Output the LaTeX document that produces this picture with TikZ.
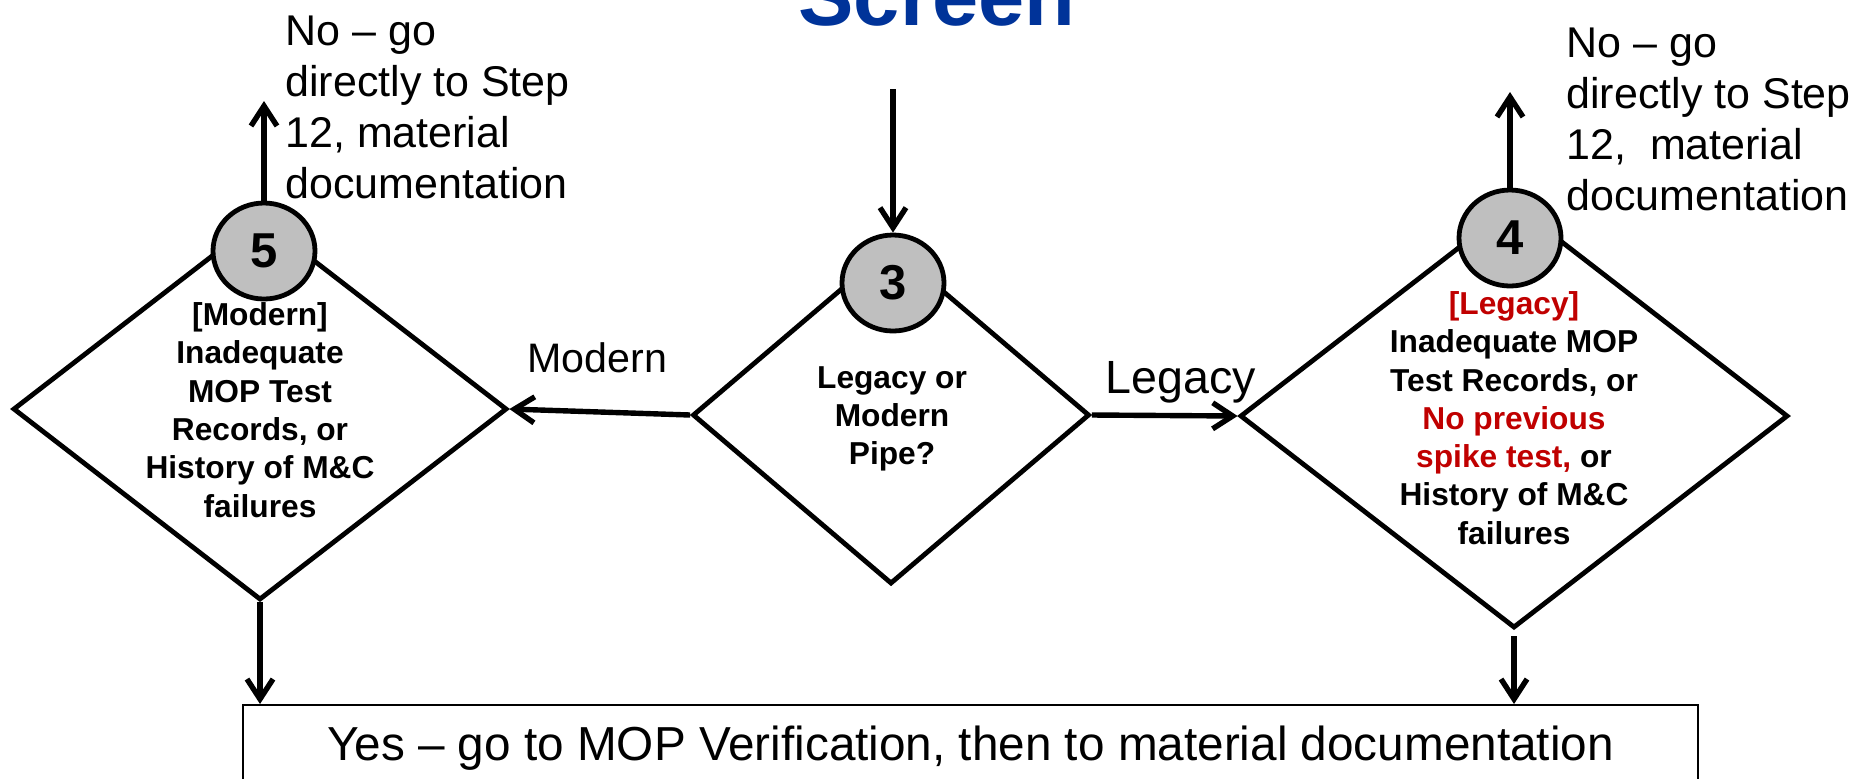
\documentclass[tikz,border=0pt]{standalone}
\usepackage{fontspec}
\setmainfont{Liberation Sans}
\usepackage{tikz}
\usetikzlibrary{arrows.meta,shapes.geometric,positioning,calc}
\usepackage{xcolor}
\newcommand{\pxunit}{0.5pt}
\tikzset{
    diasty/.style={draw,shape=diamond,inner sep=0,line width=2.4pt},
    numsty/.style={draw,ellipse,fill=numgray,line width=2.4pt,inner sep=0,minimum width=51pt,minimum height=48pt,font=\bfseries\fontsize{24.5}{24.5}\selectfont},
    asksty/.style={align=center,inner sep=0,font=\bfseries\fontsize{15.85}{19.15}\selectfont},
    notesty/.style={align=left,inner sep=0,anchor=base west,font=\fontsize{21.5}{25.5}\selectfont},
    lblsty/.style={inner sep=0,anchor=base west},
    boxsty/.style={draw,line width=0.8pt,anchor=north,inner xsep=0,inner ysep=10.5pt,text depth=20pt,font=\fontsize{23.85}{23.85}\selectfont},
    titlesty/.style={inner sep=0,anchor=base,text=titleblue,font=\bfseries\fontsize{41.5}{41.5}\selectfont},
    arrsty/.style={->,line width=2.7pt},
}
\definecolor{titleblue}{RGB}{0,51,153}
\definecolor{alertred}{RGB}{192,0,0}
\definecolor{numgray}{RGB}{191,191,191}
\newcommand{\redtx}[1]{\textcolor{alertred}{#1}}

\begin{document}
\begin{tikzpicture}[>={Straight Barb[length=10pt,width=13pt,line width=2.7pt]},x=\pxunit,y=-\pxunit]
\useasboundingbox (0,0) rectangle (1850,778);
\clip (0,0) rectangle (1850,778);

\node[titlesty] (title) at (937,25) {Screen};

\node[diasty,minimum width=494*\pxunit,minimum height=382*\pxunit] (d5) at (260,409) {};
\node[diasty,minimum width=397*\pxunit,minimum height=338*\pxunit] (d3) at (891,415) {};
\node[diasty,minimum width=548*\pxunit,minimum height=424*\pxunit] (d4) at (1514,416) {};

\node[numsty] (c5) at (264,251) {5};
\node[numsty] (c3) at (893,283) {3};
\node[numsty] (c4) at (1510,238) {4};

\node[asksty] (t5) at (260,410) {[Modern]\\Inadequate\\MOP Test\\Records, or\\History of M\&C\\failures};
\node[asksty] (t3) at (892,419) {Legacy or\\Modern\\Pipe?};
\node[asksty] (t4) at (1514,418) {\redtx{[Legacy]}\\Inadequate MOP\\Test Records, or\\\redtx{No previous}\\\redtx{spike test,} or\\History of M\&C\\failures};

% last line sits on the base anchor
\node[notesty] (no5) at (285,198) {No – go\\directly to Step\\12, material\\documentation};
\node[notesty] (no4) at (1566,210) {No – go\\directly to Step\\12, \ material\\documentation};

\node[lblsty,font=\fontsize{20.6}{20.6}\selectfont] (lmod) at (527,372) {Modern};
\node[lblsty,font=\fontsize{23.3}{23.3}\selectfont] (lleg) at (1105,393) {Legacy};

\node[boxsty,minimum width=1455*\pxunit] (yes) at (970.5,704) {Yes – go to MOP Verification, then to material documentation};

\coordinate (in3) at (893,89);
\coordinate (up5) at (264,101);
\coordinate (up4) at (1510,92);

\draw[arrsty] (in3) -- (c3);
\draw[arrsty] (c5) -- (up5);
\draw[arrsty] (c4) -- (up4);
\draw[arrsty] (d3.west) -- (d5.east);
\draw[arrsty] (d3.east) -- (d4.west);
\draw[arrsty] (d5.south) -- (d5.south |- yes.north);
\draw[arrsty] ([yshift=-3pt]d4.south) -- (d4.south |- yes.north);

\end{tikzpicture}
\end{document}
